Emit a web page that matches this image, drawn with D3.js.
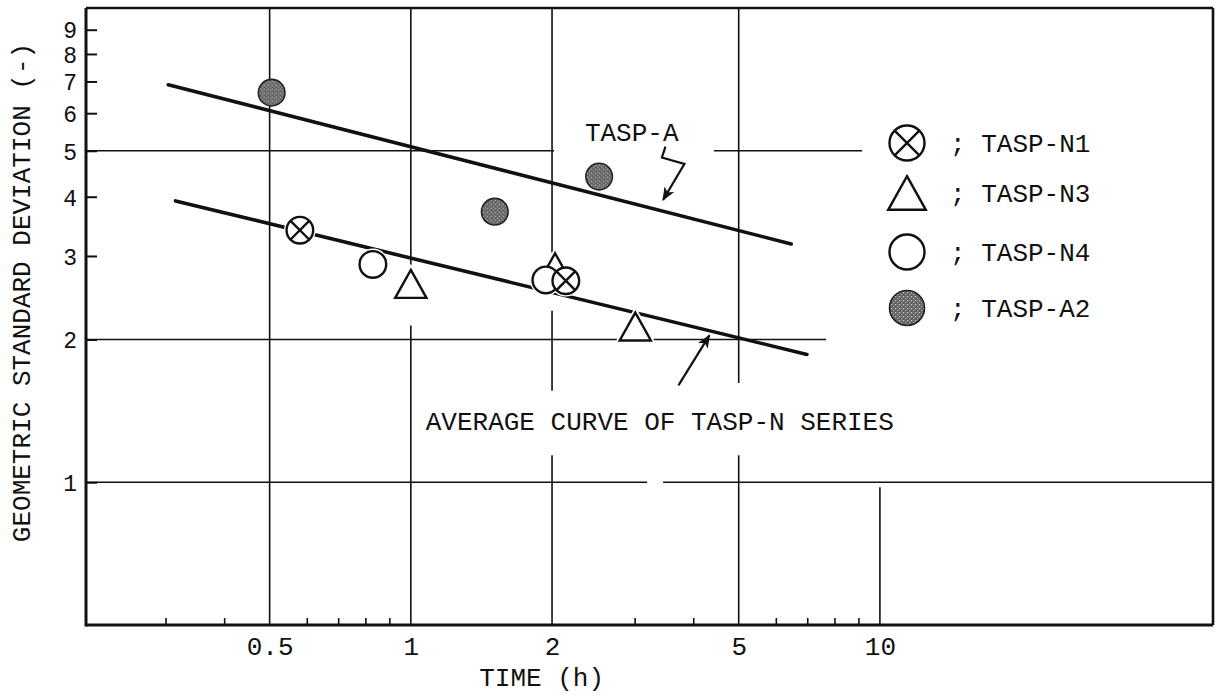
<!DOCTYPE html>
<html>
<head>
<meta charset="utf-8">
<script src="https://cdn.jsdelivr.net/npm/d3@7"></script>
<style>
  html, body { margin: 0; padding: 0; background: #fff; }
  svg { display: block; }
  text { font-family: "Liberation Mono", "Courier New", "DejaVu Sans Mono", monospace; fill: #111; }
</style>
</head>
<body>
<svg id="chart" width="1218" height="695"></svg>
<script>
// ---- data ---------------------------------------------------------------
const seriesNames = ["TASP-N1", "TASP-N3", "TASP-N4", "TASP-A2"];

// measured points: time (h) and geometric standard deviation (-)
const n1Time  = [0.58, 2.14];
const n1Sigma = [3.40, 2.66];
const n3Time  = [1.00, 2.03, 3.01];
const n3Sigma = [2.62, 2.84, 2.13];
const n4Time  = [0.83, 1.94];
const n4Sigma = [2.88, 2.67];
const a2Time  = [0.505, 1.51, 2.52];
const a2Sigma = [6.63, 3.72, 4.41];

// fitted curves (end points)
const curveATime  = [0.304, 6.47];
const curveASigma = [6.89, 3.18];
const curveNTime  = [0.315, 6.99];
const curveNSigma = [3.92, 1.86];

// axes
const xDomain = [0.203, 51.3];
const yDomain = [0.5, 10];
const xTickLabels = [0.5, 1, 2, 5, 10];
const xMinorTicks = [0.3, 0.4, 0.6, 0.7, 0.8, 0.9, 3, 4, 6, 7, 8, 9];
const yTickLabels = [1, 2, 3, 4, 5, 6, 7, 8, 9];

// ---- layout -------------------------------------------------------------
const svg = d3.select("#chart");
const L = 86, R = 1213, T = 8, B = 625;
const x = d3.scaleLog().domain(xDomain).range([L, R]);
const y = d3.scaleLog().domain(yDomain).range([B, T]);
const FS = 26;

// speckled grey fill for the solid markers
const defs = svg.append("defs");
const pat = defs.append("pattern").attr("id", "speckle")
  .attr("patternUnits", "userSpaceOnUse").attr("width", 4).attr("height", 4);
pat.append("rect").attr("width", 4).attr("height", 4).attr("fill", "#5c5c5c");
pat.append("rect").attr("x", 0).attr("y", 0).attr("width", 1.3).attr("height", 1.3).attr("fill", "#c8c8c8");
pat.append("rect").attr("x", 2).attr("y", 2).attr("width", 1.3).attr("height", 1.3).attr("fill", "#b0b0b0");
pat.append("rect").attr("x", 2.6).attr("y", 0.4).attr("width", 1).attr("height", 1).attr("fill", "#8a8a8a");

defs.append("marker").attr("id", "arrow")
  .attr("viewBox", "-12 -6 14 12").attr("refX", 0).attr("refY", 0)
  .attr("markerUnits", "userSpaceOnUse").attr("markerWidth", 14).attr("markerHeight", 12)
  .attr("orient", "auto")
  .append("path").attr("d", "M-11,-4.5 L0,0 L-11,4.5 L-8,0 Z")
  .attr("fill", "#111").attr("stroke", "#111").attr("stroke-width", 1);

// ---- grid lines (broken where labels and markers sit) -------------------
const hGrid = [
  { v: 5, segs: [[0.2, 2.02], [4.43, 9.16]] },
  { v: 2, segs: [[0.2, 7.68]] },
  { v: 1, segs: [[0.2, 3.19], [3.45, 60]] }
];
const vGrid = [
  { v: 0.5, segs: [[0.5, 10]] },
  { v: 1,   segs: [[2.84, 10], [0.5, 2.14]] },
  { v: 2,   segs: [[3.05, 10], [1.56, 2.30], [0.5, 1.14]] },
  { v: 5,   segs: [[1.62, 10], [0.5, 1.14]] },
  { v: 10,  segs: [[0.5, 0.976]] }
];
const clampX = v => Math.min(Math.max(x(v), L), R);
const grid = svg.append("g").attr("stroke", "#111").attr("stroke-width", 1.6);
hGrid.forEach(g => g.segs.forEach(s => grid.append("line")
  .attr("x1", clampX(s[0])).attr("x2", clampX(s[1])).attr("y1", y(g.v)).attr("y2", y(g.v))));
vGrid.forEach(g => g.segs.forEach(s => grid.append("line")
  .attr("x1", x(g.v)).attr("x2", x(g.v)).attr("y1", y(s[0])).attr("y2", y(s[1]))));

// ---- axes ---------------------------------------------------------------
const xAxis = svg.append("g").attr("transform", `translate(0,${B})`)
  .call(d3.axisBottom(x).tickValues(xMinorTicks).tickSizeInner(-7).tickSizeOuter(0).tickFormat(""));
xAxis.select(".domain").remove();
xAxis.selectAll(".tick line").attr("stroke", "#111").attr("stroke-width", 1.6);

const xLab = svg.append("g").attr("transform", `translate(0,${B})`)
  .call(d3.axisBottom(x).tickValues(xTickLabels).tickSize(0).tickPadding(30)
    .tickFormat(d => String(d)));
xLab.select(".domain").remove();
xLab.selectAll("text").attr("font-size", FS).attr("fill", "#111")
  .attr("font-family", "Liberation Mono, monospace").attr("dy", 0).attr("y", 30);

const yAxis = svg.append("g").attr("transform", `translate(${L},0)`)
  .call(d3.axisLeft(y).tickValues(yTickLabels).tickSizeInner(-11).tickSizeOuter(0)
    .tickPadding(20).tickFormat(d => String(d)));
yAxis.select(".domain").remove();
yAxis.selectAll(".tick line").attr("stroke", "#111").attr("stroke-width", 2);
yAxis.selectAll("text").attr("font-size", 23).attr("fill", "#111")
  .attr("font-family", "Liberation Mono, monospace").attr("dy", "0.36em").attr("x", -9);

// frame
const frame = svg.append("g").attr("stroke", "#111").attr("fill", "none");
frame.append("line").attr("x1", L).attr("x2", L).attr("y1", T).attr("y2", B + 1.5).attr("stroke-width", 3);
frame.append("line").attr("x1", L).attr("x2", R).attr("y1", B).attr("y2", B).attr("stroke-width", 3);
frame.append("line").attr("x1", L).attr("x2", R).attr("y1", T).attr("y2", T).attr("stroke-width", 2.6);
frame.append("line").attr("x1", R).attr("x2", R).attr("y1", T).attr("y2", B).attr("stroke-width", 2.6);

// axis titles
svg.append("text").attr("x", x(1.9)).attr("y", 686).attr("text-anchor", "middle")
  .attr("font-size", FS).text("TIME (h)");
svg.append("text").attr("transform", `translate(30,${(T + B) / 2 - 24}) rotate(-90)`)
  .attr("text-anchor", "middle").attr("font-size", FS)
  .text("GEOMETRIC STANDARD DEVIATION (-)");

// ---- fitted curves ------------------------------------------------------
const line = d3.line().x(d => x(d[0])).y(d => y(d[1]));
const curves = svg.append("g").attr("fill", "none").attr("stroke", "#111")
  .attr("stroke-width", 3.6).attr("stroke-linecap", "round");
curves.append("path").attr("d", line(d3.zip(curveATime, curveASigma)));
curves.append("path").attr("d", line(d3.zip(curveNTime, curveNSigma)));

// ---- markers ------------------------------------------------------------
function trianglePath(w, h) { return `M0,${-h / 2}L${w / 2},${h / 2}L${-w / 2},${h / 2}Z`; }

function drawMarker(g, kind, size) {
  const r = size;
  if (kind === "TASP-N1") {
    g.append("circle").attr("r", r).attr("fill", "#fff").attr("stroke", "#111").attr("stroke-width", 2.4);
    const k = r * 0.72;
    g.append("path").attr("d", `M${-k},${-k}L${k},${k}M${k},${-k}L${-k},${k}`)
      .attr("stroke", "#111").attr("stroke-width", 2.4);
  } else if (kind === "TASP-N3") {
    g.append("path").attr("d", trianglePath(r * 2.35, r * 2.1)).attr("fill", "#fff")
      .attr("stroke", "#111").attr("stroke-width", 2.4).attr("stroke-linejoin", "miter");
  } else if (kind === "TASP-N4") {
    g.append("circle").attr("r", r).attr("fill", "#fff").attr("stroke", "#111").attr("stroke-width", 2.4);
  } else {
    g.append("circle").attr("r", r).attr("fill", "url(#speckle)").attr("stroke", "#222").attr("stroke-width", 1.6);
  }
}
function halo(g, kind, size) {
  if (kind === "TASP-N3") {
    g.append("path").attr("d", trianglePath(size * 2.35, size * 2.1)).attr("fill", "#fff")
      .attr("stroke", "#fff").attr("stroke-width", 6);
  } else if (kind !== "TASP-A2") {
    g.append("circle").attr("r", size + 2.5).attr("fill", "#fff");
  }
}

const pointSets = [
  { name: "TASP-A2", t: a2Time, s: a2Sigma },
  { name: "TASP-N3", t: n3Time, s: n3Sigma },
  { name: "TASP-N4", t: n4Time, s: n4Sigma },
  { name: "TASP-N1", t: n1Time, s: n1Sigma }
];
const pts = svg.append("g");
pointSets.forEach(ps => d3.zip(ps.t, ps.s).forEach(([t, s]) => {
  const g = pts.append("g").attr("transform", `translate(${x(t)},${y(s)})`);
  halo(g, ps.name, 13.3);
}));
pointSets.forEach(ps => d3.zip(ps.t, ps.s).forEach(([t, s]) => {
  const g = pts.append("g").attr("transform", `translate(${x(t)},${y(s)})`);
  drawMarker(g, ps.name, 13.3);
}));

// ---- annotations --------------------------------------------------------
svg.append("text").attr("x", x(2.35)).attr("y", y(5.25)).attr("font-size", FS).text("TASP-A");
const squiggle = [[3.49, 5.10], [3.43, 4.84], [3.83, 4.69], [3.45, 3.94]];
svg.append("path").attr("d", line(squiggle)).attr("fill", "none").attr("stroke", "#111")
  .attr("stroke-width", 2.2).attr("marker-end", "url(#arrow)");

svg.append("text").attr("x", x(1.076)).attr("y", y(1.288)).attr("font-size", FS)
  .text("AVERAGE CURVE OF TASP-N SERIES");
const pointer = [[3.72, 1.60], [4.33, 2.04]];
svg.append("path").attr("d", line(pointer)).attr("fill", "none").attr("stroke", "#111")
  .attr("stroke-width", 2.2).attr("marker-end", "url(#arrow)");

// ---- legend -------------------------------------------------------------
const legendRows = [143, 193, 252, 308];
const legend = svg.append("g");
seriesNames.forEach((name, i) => {
  const g = legend.append("g").attr("transform", `translate(907,${legendRows[i]})`);
  drawMarker(g, name, name === "TASP-N3" ? 16 : 17.5);
  legend.append("text").attr("x", 950).attr("y", legendRows[i] + 9)
    .attr("font-size", FS).text("; " + name);
});
</script>
</body>
</html>
